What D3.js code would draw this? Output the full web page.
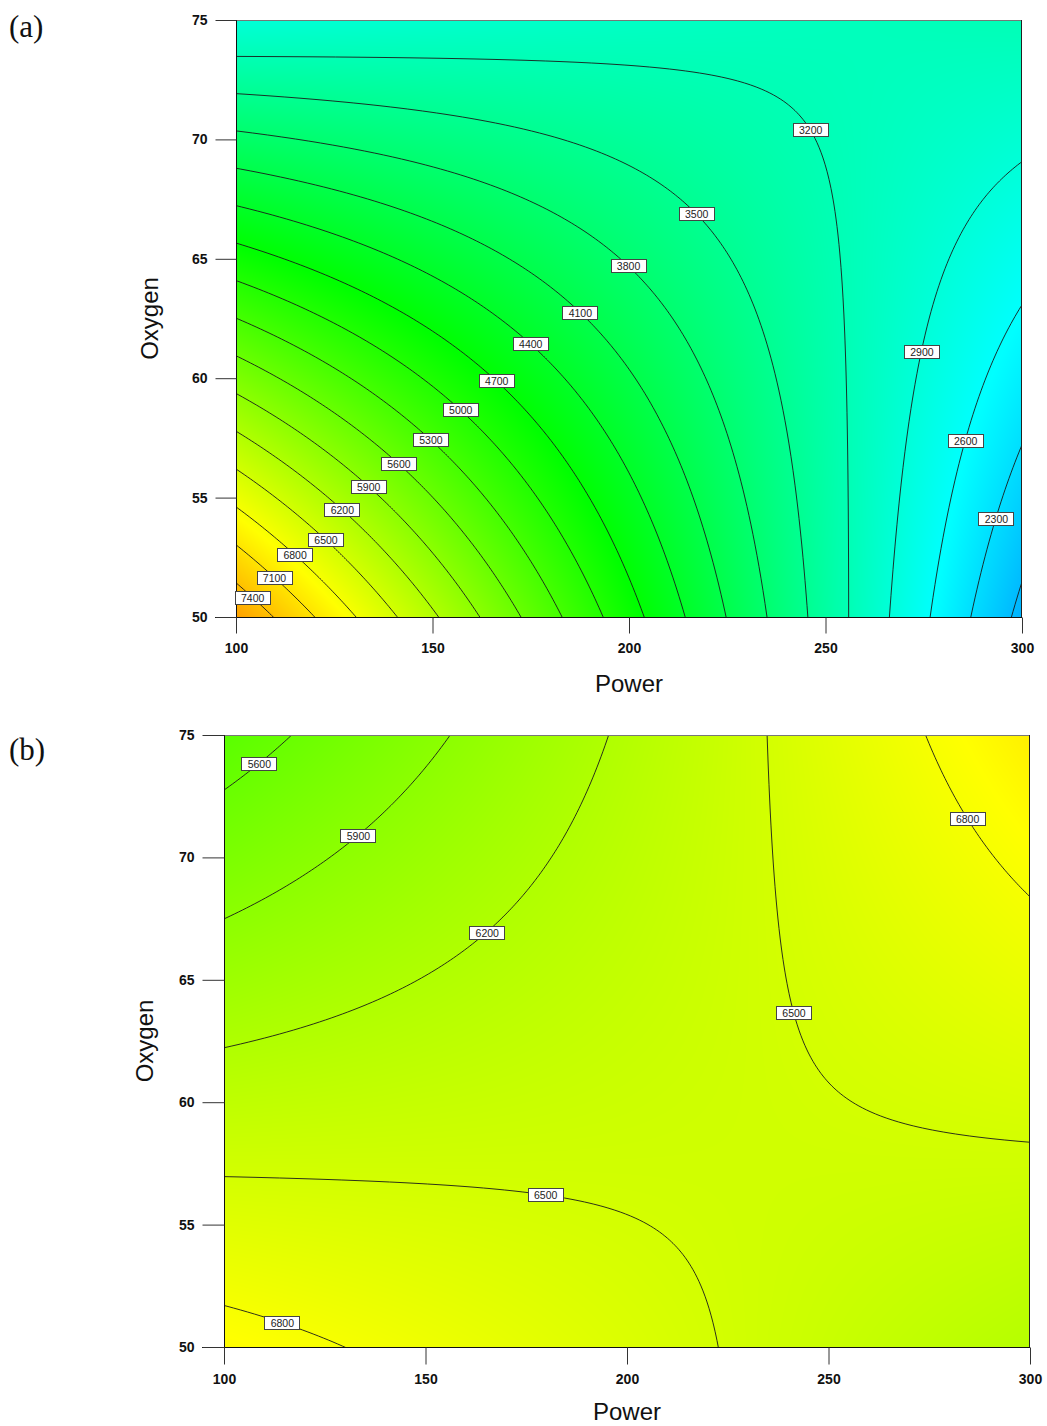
<!DOCTYPE html>
<html><head><meta charset="utf-8">
<script src="https://cdn.jsdelivr.net/npm/d3@7"></script>
<style>body{margin:0;background:#fff} svg{display:block}</style>
</head><body>
<svg id="chart" width="1047" height="1426"></svg>
<script>
// ---------------- data ----------------
const powerRange = [100, 300];
const oxygenRange = [50, 75];
const powerTicks = [100, 150, 200, 250, 300];
const oxygenTicks = [50, 55, 60, 65, 70, 75];
// response-surface model in coded units: [b0, A, B, AB, A^2, B^2]
const modelA = [3952, -1366, -874, 1508, -15, -15];
const modelB = [6404, 219.75, -169.25, 543.25, 0, 0];
// contour levels
const levelsA = [2000, 2300, 2600, 2900, 3200, 3500, 3800, 4100, 4400, 4700, 5000, 5300, 5600, 5900, 6200, 6500, 6800, 7100, 7400];
const levelsB = [5600, 5900, 6200, 6500, 6800];
// contour label anchors (value, Power, Oxygen)
const labelLevelA = [7400, 7100, 6800, 6500, 6200, 5900, 5600, 5300, 5000, 4700, 4400, 4100, 3800, 3500, 3200, 2900, 2600, 2300];
const labelPowerA = [104.8, 110.4, 115.5, 123.4, 127.5, 134.1, 141.7, 149.9, 157.25, 166.4, 174.8, 187.5, 199.5, 216.5, 244.8, 273.0, 284.2, 292.4];
const labelOxygenA = [50.96, 51.8, 52.72, 53.35, 54.61, 55.57, 56.49, 57.5, 58.71, 59.92, 61.43, 62.77, 64.66, 66.79, 70.27, 61.18, 57.45, 54.19];
const labelLevelB = [5600, 5900, 6200, 6500, 6500, 6800, 6800];
const labelPowerB = [107.9, 132.5, 164.3, 241.4, 179.9, 284.9, 114.9];
const labelOxygenB = [73.98, 71.04, 67.12, 63.68, 56.5, 71.65, 51.27];
// colour map stops
const colorStopValues = [431, 2577, 4723, 6869, 9015];
const colorStopColors = ["#0000ff", "#00ffff", "#00ff00", "#ffff00", "#ff0000"];

// ---------------- drawing ----------------
const svg = d3.select("#chart");
const color = d3.scaleLinear().domain(colorStopValues).range(colorStopColors).clamp(true);
const pMid = (powerRange[0] + powerRange[1]) / 2, pHalf = (powerRange[1] - powerRange[0]) / 2;
const oMid = (oxygenRange[0] + oxygenRange[1]) / 2, oHalf = (oxygenRange[1] - oxygenRange[0]) / 2;
function model(m, P, O) {
  const A = (P - pMid) / pHalf, B = (O - oMid) / oHalf;
  return m[0] + m[1] * A + m[2] * B + m[3] * A * B + m[4] * A * A + m[5] * B * B;
}
const FONT = "'Liberation Sans', Arial, sans-serif";

function panel(cfg) {
  const {L, T, R, B, m, levels, lv, lp, lo, tag, tagY, yTitleX, xTitleY, tickL, tickB} = cfg;
  const W = R - L, H = B - T;
  const x = d3.scaleLinear().domain(powerRange).range([L, R]);
  const y = d3.scaleLinear().domain(oxygenRange).range([B, T]);
  const fpx = (px, py) => model(m, x.invert(px), y.invert(py));

  // heat map
  const cv = document.createElement("canvas");
  cv.width = W; cv.height = H;
  const ctx = cv.getContext("2d");
  const img = ctx.createImageData(W, H);
  for (let j = 0; j < H; j++) {
    for (let i = 0; i < W; i++) {
      const c = d3.rgb(color(fpx(L + i + 0.5, T + j + 0.5)));
      const k = (j * W + i) * 4;
      img.data[k] = c.r; img.data[k + 1] = c.g; img.data[k + 2] = c.b; img.data[k + 3] = 255;
    }
  }
  ctx.putImageData(img, 0, 0);
  const g = svg.append("g");
  g.append("image").attr("x", L).attr("y", T).attr("width", W).attr("height", H)
    .attr("preserveAspectRatio", "none").attr("href", cv.toDataURL());

  // contours
  const step = 2, pad = 6;
  const nx = Math.ceil((W + 2 * pad) / step), ny = Math.ceil((H + 2 * pad) / step);
  const x0 = L - pad, y0 = T - pad;
  const vals = new Array(nx * ny);
  for (let j = 0; j < ny; j++) for (let i = 0; i < nx; i++)
    vals[j * nx + i] = fpx(x0 + (i + 0.5) * step, y0 + (j + 0.5) * step);
  const cs = d3.contours().size([nx, ny]).thresholds(levels)(vals);
  const proj = d3.geoTransform({point: function(px, py) { this.stream.point(x0 + px * step, y0 + py * step); }});
  const path = d3.geoPath(proj);
  const clipId = "clip" + tag;
  svg.append("clipPath").attr("id", clipId).append("rect").attr("x", L).attr("y", T).attr("width", W).attr("height", H);
  g.append("g").attr("clip-path", `url(#${clipId})`).selectAll("path").data(cs).join("path")
    .attr("d", path).attr("fill", "none").attr("stroke", "#1a1a1a").attr("stroke-width", 0.9);

  // frame
  g.append("line").attr("x1", L).attr("x2", R).attr("y1", T + 0.5).attr("y2", T + 0.5).attr("stroke", "#777");
  g.append("line").attr("x1", R - 0.5).attr("x2", R - 0.5).attr("y1", T).attr("y2", B).attr("stroke", "#222");
  g.append("line").attr("x1", L + 0.5).attr("x2", L + 0.5).attr("y1", T).attr("y2", B + tickB).attr("stroke", "#111");
  g.append("line").attr("x1", L - tickL).attr("x2", R).attr("y1", B + 0.5).attr("y2", B + 0.5).attr("stroke", "#111");

  // contour labels
  const lab = g.append("g");
  lv.forEach((lev, k) => {
    let px = x(lp[k]), py = y(lo[k]);
    for (let it = 0; it < 6; it++) {
      const v = fpx(px, py);
      const gx = (fpx(px + 0.5, py) - fpx(px - 0.5, py));
      const gy = (fpx(px, py + 0.5) - fpx(px, py - 0.5));
      const n2 = gx * gx + gy * gy;
      if (n2 === 0) break;
      px += (lev - v) * gx / n2; py += (lev - v) * gy / n2;
    }
    const bw = 35, bh = 13;
    lab.append("rect").attr("x", Math.round(px - bw / 2) + 0.5).attr("y", Math.round(py - bh / 2) + 0.5)
      .attr("width", bw).attr("height", bh).attr("fill", "#fff").attr("stroke", "#444").attr("stroke-width", 1);
    lab.append("text").attr("x", px + 0.5).attr("y", py + 4.5).attr("text-anchor", "middle")
      .attr("font-family", FONT).attr("font-size", "10.5px").attr("fill", "#222").text(lev);
  });

  // axes
  const ax = d3.axisLeft(y).tickValues(oxygenTicks).tickSize(tickL).tickPadding(8).tickSizeOuter(0);
  const ay = g.append("g").attr("transform", `translate(${L + 0.5},0)`).call(ax);
  const bx = d3.axisBottom(x).tickValues(powerTicks).tickSize(tickB).tickPadding(10).tickSizeOuter(0);
  const by = g.append("g").attr("transform", `translate(0,${B + 0.5})`).call(bx);
  [ay, by].forEach(a => {
    a.select(".domain").remove();
    a.selectAll(".tick line").attr("stroke", "#333");
    a.selectAll(".tick text").attr("font-family", FONT).attr("font-size", "14px").attr("font-weight", "bold").attr("fill", "#111");
  });

  // titles
  g.append("text").attr("x", (L + R) / 2).attr("y", xTitleY).attr("text-anchor", "middle")
    .attr("font-family", FONT).attr("font-size", "24px").attr("fill", "#111").text("Power");
  g.append("text").attr("transform", `translate(${yTitleX},${(T + B) / 2}) rotate(-90)`).attr("text-anchor", "middle")
    .attr("font-family", FONT).attr("font-size", "24px").attr("fill", "#111").text("Oxygen");
  g.append("text").attr("x", 9).attr("y", tagY).attr("font-family", "'Liberation Serif', 'Times New Roman', serif")
    .attr("font-size", "31px").attr("fill", "#111").text("(" + tag + ")");
}

panel({L: 236, T: 20, R: 1022, B: 617, m: modelA, levels: levelsA, lv: labelLevelA, lp: labelPowerA, lo: labelOxygenA,
  tag: "a", tagY: 37, yTitleX: 158, xTitleY: 692, tickL: 21, tickB: 16});
panel({L: 224, T: 735, R: 1030, B: 1347, m: modelB, levels: levelsB, lv: labelLevelB, lp: labelPowerB, lo: labelOxygenB,
  tag: "b", tagY: 760, yTitleX: 153, xTitleY: 1420, tickL: 22, tickB: 17});
</script>
</body></html>
